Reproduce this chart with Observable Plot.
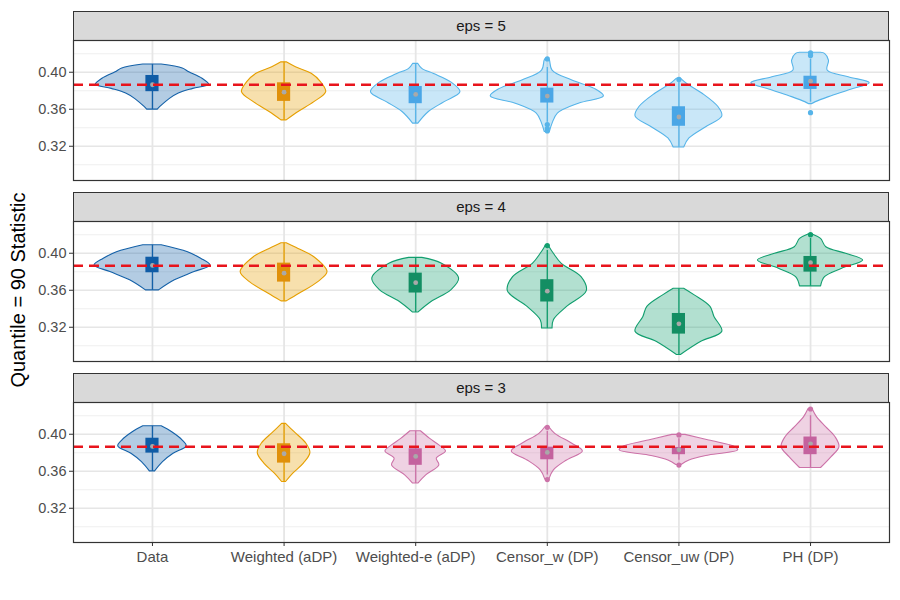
<!DOCTYPE html>
<html>
<head>
<meta charset="utf-8">
<script src="https://cdn.jsdelivr.net/npm/d3@7"></script>
<script src="https://cdn.jsdelivr.net/npm/@observablehq/plot@0.6"></script>
<style>
  html, body { margin: 0; padding: 0; background: #fff; }
  #root { position: relative; width: 900px; height: 600px; background: #fff; font-family: "Liberation Sans", Arial, sans-serif; overflow: hidden; }
  .ytitle { position: absolute; left: 18px; top: 290px; transform: translate(-50%, -50%) rotate(-90deg); font-size: 20px; color: #000; white-space: nowrap; }
  .strip { position: absolute; left: 73px; width: 816px; height: 30px; box-sizing: border-box; border: 1px solid #333; background: #d9d9d9; color: #1a1a1a; font-size: 15px; text-align: center; line-height: 28px; }
  .panel { position: absolute; left: 0; }
</style>
</head>
<body>
<div id="root">
  <div class="ytitle">Quantile = 90 Statistic</div>
</div>
<script>
// ---------------- data ----------------
const categories = ["Data", "Weighted (aDP)", "Weighted-e (aDP)", "Censor_w (DP)", "Censor_uw (DP)", "PH (DP)"];
const epsLevels = [5, 4, 3];
const yTicks = [0.32, 0.36, 0.40];
const yMinorTicks = [0.30, 0.34, 0.38, 0.42];
const referenceValue = 0.3865;

// violin outlines: [value, half-width (category units)] from top to bottom
const violinsEps5 = [
  [[0.4083,0.07],[0.404,0.23],[0.400,0.28],[0.393,0.38],[0.3865,0.43],[0.382,0.31],[0.377,0.20],[0.371,0.13],[0.3625,0.06],[0.3596,0.04]],
  [[0.4107,0.02],[0.4054,0.09],[0.3983,0.21],[0.3893,0.28],[0.3785,0.32],[0.3677,0.23],[0.357,0.11],[0.348,0.02]],
  [[0.409,0.02],[0.4037,0.05],[0.398,0.14],[0.389,0.27],[0.3785,0.34],[0.3677,0.22],[0.357,0.10],[0.3445,0.02]],
  [[0.4144,0.012],[0.4126,0.02],[0.4018,0.04],[0.391,0.19],[0.382,0.36],[0.3739,0.43],[0.366,0.24],[0.3553,0.08],[0.3445,0.04],[0.3355,0.02]],
  [[0.393,0.015],[0.3875,0.06],[0.3768,0.18],[0.3624,0.30],[0.3524,0.33],[0.3409,0.21],[0.3284,0.08],[0.3187,0.04]],
  [[0.421,0.08],[0.4198,0.11],[0.4126,0.14],[0.4018,0.13],[0.3946,0.29],[0.3882,0.45],[0.3803,0.29],[0.3731,0.14],[0.3677,0.04],[0.3655,0.01]]
];
const violinsEps4 = [
  [[0.4086,0.07],[0.401,0.27],[0.394,0.37],[0.3868,0.44],[0.3796,0.32],[0.3707,0.17],[0.3599,0.05]],
  [[0.4108,0.02],[0.4047,0.11],[0.3957,0.23],[0.3796,0.33],[0.3688,0.26],[0.3564,0.12],[0.348,0.02]],
  [[0.395,0.05],[0.3886,0.20],[0.3725,0.33],[0.3599,0.27],[0.3473,0.12],[0.3359,0.02]],
  [[0.4083,0.012],[0.406,0.02],[0.3994,0.05],[0.3886,0.11],[0.3742,0.26],[0.3591,0.30],[0.342,0.15],[0.3277,0.05],[0.3187,0.04]],
  [[0.3617,0.04],[0.3545,0.12],[0.342,0.24],[0.3312,0.27],[0.3151,0.33],[0.3043,0.17],[0.29,0.015]],
  [[0.4201,0.02],[0.4155,0.08],[0.4065,0.12],[0.3994,0.27],[0.3922,0.40],[0.3832,0.24],[0.3742,0.11],[0.3642,0.08]]
];
const violinsEps3 = [
  [[0.4086,0.07],[0.4022,0.15],[0.3932,0.23],[0.3868,0.26],[0.3789,0.16],[0.3699,0.08],[0.3599,0.02]],
  [[0.4112,0.015],[0.4022,0.08],[0.3897,0.17],[0.3796,0.20],[0.3682,0.15],[0.3574,0.07],[0.3484,0.015]],
  [[0.4032,0.04],[0.395,0.11],[0.3879,0.18],[0.3814,0.23],[0.3736,0.16],[0.3664,0.18],[0.3556,0.08],[0.3467,0.02]],
  [[0.4075,0.015],[0.4004,0.06],[0.3897,0.19],[0.3814,0.27],[0.3717,0.15],[0.361,0.05],[0.351,0.015]],
  [[0.3993,0.05],[0.3932,0.23],[0.386,0.43],[0.3825,0.45],[0.3771,0.23],[0.3717,0.08],[0.3667,0.02]],
  [[0.4273,0.015],[0.4183,0.05],[0.4075,0.12],[0.3968,0.19],[0.386,0.22],[0.3753,0.16],[0.3635,0.08]]
];
const violins = [violinsEps5, violinsEps4, violinsEps3];

// box statistics per eps (rows) and category (columns)
const boxUpper = [
  [0.3965, 0.3886, 0.3846, 0.3828, 0.3627, 0.3957],
  [0.3957, 0.3893, 0.3785, 0.3714, 0.3349, 0.3965],
  [0.3957, 0.3897, 0.3843, 0.3860, 0.3857, 0.3970]
];
const boxLower = [
  [0.3790, 0.3685, 0.3660, 0.3667, 0.3416, 0.3814],
  [0.3789, 0.3688, 0.3570, 0.3473, 0.3126, 0.3796],
  [0.3796, 0.3688, 0.3664, 0.3724, 0.3779, 0.3779]
];
const meanValue = [
  [0.3865, 0.3785, 0.3760, 0.3742, 0.3516, 0.3903],
  [0.3868, 0.3785, 0.3682, 0.3590, 0.3237, 0.3897],
  [0.3868, 0.3789, 0.3760, 0.3803, 0.3832, 0.3896]
];
const whiskerHigh = [
  [0.4083, 0.4107, 0.4090, 0.4050, 0.3900, 0.4140],
  [0.4086, 0.4108, 0.3950, 0.4030, 0.3617, 0.4160],
  [0.4086, 0.4112, 0.4032, 0.4030, 0.3950, 0.4200]
];
const whiskerLow = [
  [0.3596, 0.3480, 0.3445, 0.3460, 0.3187, 0.3677],
  [0.3599, 0.3480, 0.3359, 0.3187, 0.2900, 0.3642],
  [0.3599, 0.3484, 0.3467, 0.3560, 0.3720, 0.3635]
];
const outlierValues = [
  [[], [], [], [0.4144, 0.3435, 0.3392, 0.3366], [0.3922], [0.4209, 0.4180, 0.3563]],
  [[], [], [], [0.4083], [], [0.4201]],
  [[], [], [], [0.4075, 0.3510], [0.3993, 0.3667], [0.4273]]
];

// ---------------- styles ----------------
const baseColors = ["#1461A8", "#E69F00"];
const dpColors = ["#56B4E9", "#119E6E", "#CC72A8"]; // eps 5, 4, 3
const boxColors = [["#0F5CA6", "#E0900A"], ["#4AA6E6", "#138E63", "#C4629E"]];
function colorFor(ei, ci) { return ci < 2 ? baseColors[ci] : dpColors[ei]; }
function boxColorFor(ei, ci) { return ci < 2 ? boxColors[0][ci] : boxColors[1][ei]; }

const panelTops = [40, 221, 402];
const stripTops = [11, 192, 373];
const root = document.getElementById("root");

function makePanel(ei, showX) {
  const vrows = [];
  violins[ei].forEach((prof, ci) => prof.forEach(([v, hw]) => vrows.push({ci, x: ci + 1, v, hw, color: colorFor(ei, ci)})));
  const boxes = categories.map((c, ci) => ({
    x: ci + 1, q1: boxLower[ei][ci], q3: boxUpper[ei][ci], mean: meanValue[ei][ci],
    lo: whiskerLow[ei][ci], hi: whiskerHigh[ei][ci], color: colorFor(ei, ci), bcolor: boxColorFor(ei, ci)
  }));
  const outs = [];
  outlierValues[ei].forEach((arr, ci) => arr.forEach(v => outs.push({x: ci + 1, v, color: colorFor(ei, ci)})));
  const xIdx = categories.map((c, i) => i + 1);

  return Plot.plot({
    width: 900,
    height: showX ? 180 : 140,
    marginLeft: 73, marginRight: 11, marginTop: 0, marginBottom: showX ? 40 : 0,
    style: {fontFamily: "'Liberation Sans', Arial, sans-serif", fontSize: "14px", background: "transparent", overflow: "visible"},
    x: {type: "linear", domain: [0.4, 6.6], label: null},
    y: {domain: [0.283, 0.4343], label: null},
    color: {type: "identity"},
    marks: [
      Plot.ruleY(yMinorTicks, {stroke: "#ebebeb", strokeWidth: 0.8}),
      Plot.ruleY(yTicks, {stroke: "#e6e6e6", strokeWidth: 1.6}),
      Plot.ruleX(xIdx, {stroke: "#e6e6e6", strokeWidth: 1.8}),
      Plot.areaX(vrows, {y: "v", x1: d => d.x - d.hw, x2: d => d.x + d.hw, z: "ci", fill: "color", fillOpacity: 0.32, stroke: "color", strokeWidth: 1.1, curve: "catmull-rom"}),
      Plot.ruleX(boxes, {x: "x", y1: "lo", y2: "hi", stroke: "color", strokeWidth: 1.3}),
      Plot.rect(boxes, {x1: d => d.x - 0.05, x2: d => d.x + 0.05, y1: "q1", y2: "q3", fill: "bcolor"}),
      Plot.dot(outs, {x: "x", y: "v", r: 2.6, fill: "color", stroke: null}),
      Plot.dot(boxes, {x: "x", y: "mean", r: 2.4, fill: "#a9a9a9", stroke: null}),
      Plot.ruleY([referenceValue], {stroke: "#E8141C", strokeWidth: 2.6, strokeDasharray: "10,6"}),
      Plot.frame({stroke: "#333", strokeWidth: 1.2}),
      Plot.axisY({ticks: yTicks, tickFormat: ".2f", tickSize: 4, tickPadding: 3, stroke: "#333", fill: "#4d4d4d", fontSize: 14.5, label: null}),
      showX
        ? Plot.axisX({ticks: xIdx, tickFormat: i => categories[i - 1], tickSize: 4, tickPadding: 5, stroke: "#333", fill: "#4d4d4d", fontSize: 15, label: null})
        : Plot.axisX({ticks: [], label: null})
    ]
  });
}

epsLevels.forEach((eps, ei) => {
  const strip = document.createElement("div");
  strip.className = "strip";
  strip.style.top = stripTops[ei] + "px";
  strip.textContent = "eps = " + eps;
  root.appendChild(strip);
  const wrap = document.createElement("div");
  wrap.className = "panel";
  wrap.style.top = panelTops[ei] + "px";
  wrap.appendChild(makePanel(ei, ei === epsLevels.length - 1));
  root.appendChild(wrap);
});
</script>
</body>
</html>
